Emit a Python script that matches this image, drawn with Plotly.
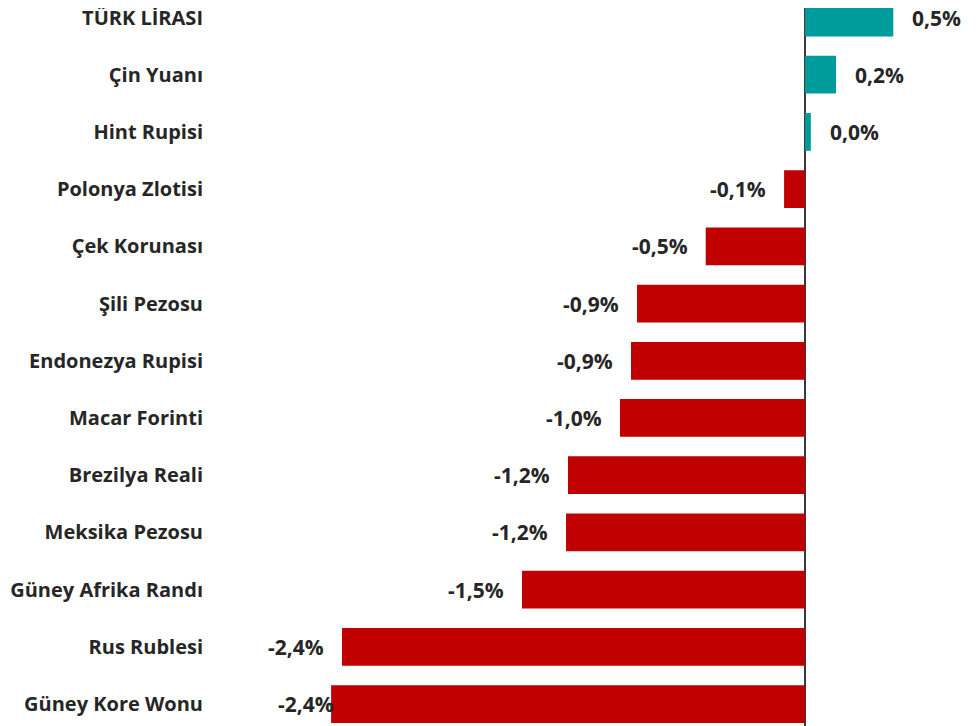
import plotly.graph_objects as go

categories = ["TÜRK LİRASI", "Çin Yuanı", "Hint Rupisi", "Polonya Zlotisi", "Çek Korunası",
              "Şili Pezosu", "Endonezya Rupisi", "Macar Forinti", "Brezilya Reali",
              "Meksika Pezosu", "Güney Afrika Randı", "Rus Rublesi", "Güney Kore Wonu"]
values = [0.455, 0.16, 0.03, -0.108, -0.512, -0.866, -0.897, -0.954, -1.222,
          -1.232, -1.459, -2.387, -2.443]
labels = [f"{v:.1f}".replace(".", ",") + "%" for v in values]

POS = "#009B9B"
NEG = "#C00000"
TXT = "#262626"
FONT = "Open Sans"

colors = [POS if v >= 0 else NEG for v in values]
label_shift = [17, 17, 17, -16, -16, -16, -16, -16, -16, -16, -16, -16, 5]

fig = go.Figure(go.Bar(
    x=values, y=categories, orientation="h",
    marker=dict(color=colors, line=dict(width=0)),
    hoverinfo="skip", cliponaxis=True,
))

for c, v, t, s in zip(categories, values, labels, label_shift):
    fig.add_annotation(
        x=v, y=c, text=t, showarrow=False,
        xanchor="left" if v >= 0 else "right", xshift=s,
        font=dict(family=FONT, size=21, color=TXT, weight="bold"),
    )

fig.update_layout(
    width=972, height=718,
    margin=dict(l=198, r=0, t=0, b=0, autoexpand=False),
    plot_bgcolor="white", paper_bgcolor="white",
    bargap=0.34, showlegend=False,
    xaxis=dict(range=[-3.088, 0.902], showgrid=False, showticklabels=False,
               zeroline=True, zerolinecolor="#3A3A3A", zerolinewidth=2,
               fixedrange=True, automargin=False),
    yaxis=dict(range=[12.384, -0.166], showgrid=False, ticks="",
               tickfont=dict(family=FONT, size=20, color=TXT, weight="bold"),
               ticklabelstandoff=2, fixedrange=True, automargin=False),
)

fig.write_html("out.html")
